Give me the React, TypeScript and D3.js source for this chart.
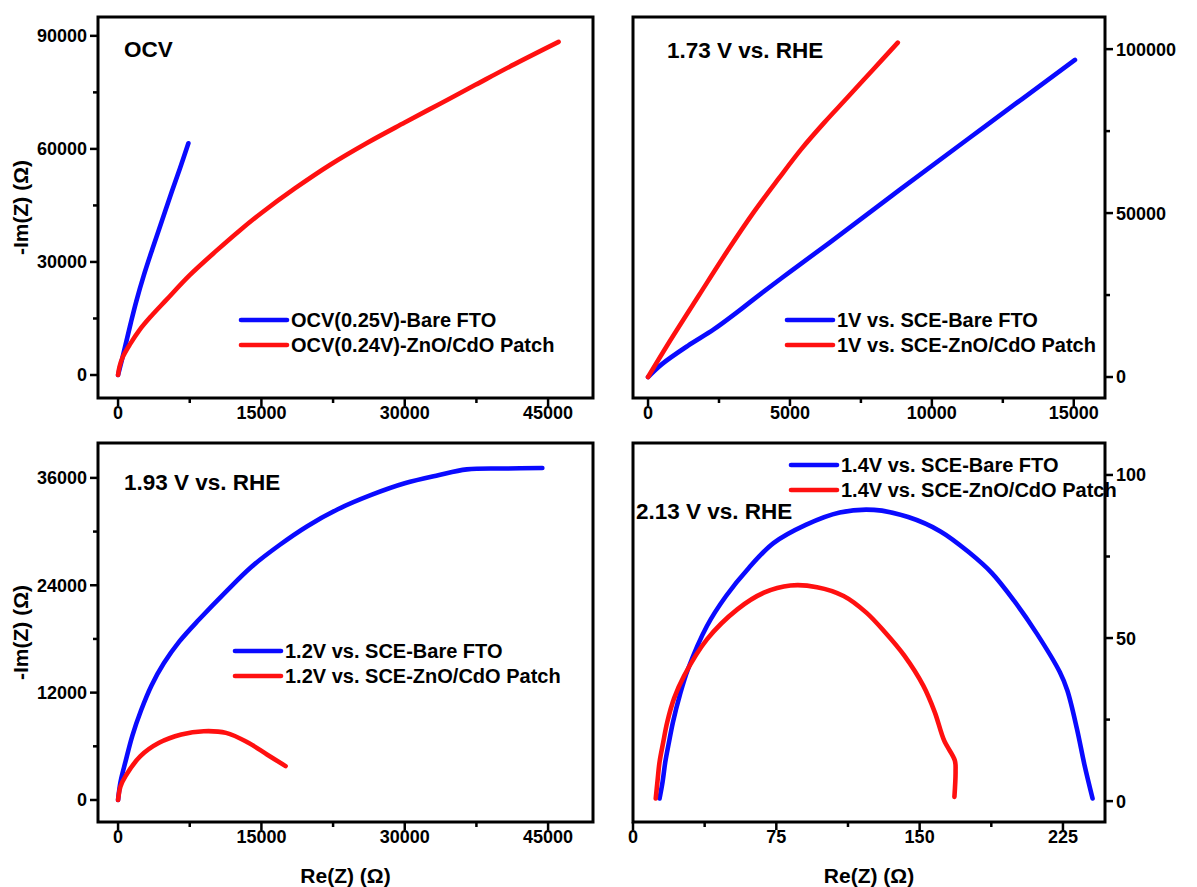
import React from 'react';
import * as d3 from 'd3';

type Pt = [number, number];

// ---- Data ----
const ocvBare: Pt[] = [[0,0],[400,4000],[800,8200],[1300,13500],[1900,19500],[2700,26500],[3600,33500],[4600,41000],[5600,48500],[6500,55000],[7360,61500]];
const ocvPatch: Pt[] = [[0,0],[150,2200],[500,4800],[1256,8200],[2200,11800],[3350,15300],[5000,19800],[7500,26500],[10300,33000],[12800,38500],[15000,43000],[18500,49500],[22200,55800],[26000,61500],[30000,67000],[33700,72000],[37400,77000],[41500,82500],[46100,88400]];

const v173Bare: Pt[] = [[0,0],[500,4000],[1400,9500],[2314,14500],[3131,19700],[3811,24300],[5036,32300],[6400,41000],[8850,57000],[11850,76300],[15041,96700]];
const v173Patch: Pt[] = [[0,0],[700,10000],[1800,25000],[2800,38500],[3700,50000],[4600,60500],[5400,69500],[6200,77500],[7000,85000],[7900,93500],[8800,102000]];

const v193Bare: Pt[] = [[0,0],[250,2000],[780,4300],[1500,7200],[2400,10000],[3500,12800],[4800,15300],[6400,17700],[8500,20200],[11300,23300],[14000,26100],[16900,28500],[19800,30600],[23000,32500],[26500,34100],[30000,35400],[33500,36300],[36500,36950],[40500,37050],[44400,37100]];
const v193Patch: Pt[] = [[0,0],[250,1500],[780,2670],[2340,4900],[4290,6390],[6620,7320],[8960,7690],[11300,7500],[13640,6390],[15580,5090],[17530,3790]];

const v213Bare: Pt[] = [[13.9,0.8],[15.5,6],[16.9,12],[18.8,18],[20.9,24.2],[24.5,32.5],[28.8,40.5],[38.7,53.7],[48.7,62.9],[60.6,71.5],[73.5,79.1],[90.4,84.7],[108.2,88.5],[126.1,89.3],[144,87.1],[160.9,82.7],[175.8,76.3],[187.7,70],[199.6,61.3],[211.5,51.2],[223.4,39.5],[227.3,33.9],[232.3,22.2],[236.3,11],[240.5,0.8]];
const v213Patch: Pt[] = [[11.9,0.8],[12.8,6],[13.9,12],[15.8,18],[17.9,24.2],[21.5,31.5],[26.8,38.5],[38.7,49.6],[54.6,58.8],[68.5,63.9],[82.4,66.1],[96.3,65.6],[110.2,62.9],[122.1,57.8],[132,51.7],[142,44.6],[151.9,35.4],[157.9,27.3],[162.8,18.6],[168.4,12.5],[168.8,9],[168.2,1.3]];

const ticksX1 = [0, 15000, 30000, 45000];
const minorX1 = [7500, 22500, 37500];
const ticksY1 = [0, 30000, 60000, 90000];
const minorY1 = [15000, 45000, 75000];

const ticksX2 = [0, 5000, 10000, 15000];
const minorX2 = [2500, 7500, 12500];
const ticksY2 = [0, 50000, 100000];
const minorY2 = [25000, 75000];

const ticksX3 = [0, 15000, 30000, 45000];
const minorX3 = [7500, 22500, 37500];
const ticksY3 = [0, 12000, 24000, 36000];
const minorY3 = [6000, 18000, 30000];

const ticksX4 = [0, 75, 150, 225];
const minorX4 = [37.5, 112.5, 187.5];
const ticksY4 = [0, 50, 100];
const minorY4 = [25, 75];

const titles = ['OCV', '1.73 V vs. RHE', '1.93 V vs. RHE', '2.13 V vs. RHE'];
const legends = [
  ['OCV(0.25V)-Bare FTO', 'OCV(0.24V)-ZnO/CdO Patch'],
  ['1V vs. SCE-Bare FTO', '1V vs. SCE-ZnO/CdO Patch'],
  ['1.2V vs. SCE-Bare FTO', '1.2V vs. SCE-ZnO/CdO Patch'],
  ['1.4V vs. SCE-Bare FTO', '1.4V vs. SCE-ZnO/CdO Patch'],
];

const BLUE = '#0a0aff';
const RED = '#ff1010';
const FONT = '"Liberation Sans", Arial, Helvetica, sans-serif';

type PanelCfg = {
  left: number; right: number; top: number; bottom: number;
  xDomain: [number, number]; yDomain: [number, number];
  xTicks: number[]; xMinor: number[]; yTicks: number[]; yMinor: number[];
  yRight: boolean;
  bare: Pt[]; patch: Pt[];
  title: string; titleX: number; titleY: number;
  legend: string[]; legX: number; legY: number;
  yLabel: boolean; xLabel: boolean;
};

const panels: PanelCfg[] = [
  { left: 98, right: 593, top: 17, bottom: 398, xDomain: [-2100, 49700], yDomain: [-6100, 95000],
    xTicks: ticksX1, xMinor: minorX1, yTicks: ticksY1, yMinor: minorY1, yRight: false,
    bare: ocvBare, patch: ocvPatch, title: titles[0], titleX: 124, titleY: 49,
    legend: legends[0], legX: 241, legY: 320, yLabel: true, xLabel: false },
  { left: 633, right: 1105, top: 17, bottom: 398, xDomain: [-530, 16100], yDomain: [-6400, 109800],
    xTicks: ticksX2, xMinor: minorX2, yTicks: ticksY2, yMinor: minorY2, yRight: true,
    bare: v173Bare, patch: v173Patch, title: titles[1], titleX: 667, titleY: 50,
    legend: legends[1], legX: 787, legY: 320, yLabel: false, xLabel: false },
  { left: 98, right: 593, top: 443, bottom: 822, xDomain: [-2100, 49700], yDomain: [-2460, 39900],
    xTicks: ticksX3, xMinor: minorX3, yTicks: ticksY3, yMinor: minorY3, yRight: false,
    bare: v193Bare, patch: v193Patch, title: titles[2], titleX: 124, titleY: 482,
    legend: legends[2], legX: 235, legY: 651, yLabel: true, xLabel: true },
  { left: 633, right: 1105, top: 443, bottom: 822, xDomain: [0, 247], yDomain: [-6.4, 109.8],
    xTicks: ticksX4, xMinor: minorX4, yTicks: ticksY4, yMinor: minorY4, yRight: true,
    bare: v213Bare, patch: v213Patch, title: titles[3], titleX: 636, titleY: 511,
    legend: legends[3], legX: 791, legY: 465, yLabel: false, xLabel: true },
];

function Panel({ p }: { p: PanelCfg }) {
  const x = d3.scaleLinear().domain(p.xDomain).range([p.left, p.right]);
  const y = d3.scaleLinear().domain(p.yDomain).range([p.bottom, p.top]);
  const line = d3.line<Pt>().x(d => x(d[0])).y(d => y(d[1])).curve(d3.curveCatmullRom.alpha(0.5));
  const ax = p.yRight ? p.right : p.left;
  const dir = p.yRight ? 1 : -1;
  const cy = (p.top + p.bottom) / 2;
  const cx = (p.left + p.right) / 2;
  return (
    <g>
      <path d={line(p.bare) || ''} fill="none" stroke={BLUE} strokeWidth={4.6} strokeLinecap="round" strokeLinejoin="round" />
      <path d={line(p.patch) || ''} fill="none" stroke={RED} strokeWidth={4.6} strokeLinecap="round" strokeLinejoin="round" />
      <rect x={p.left} y={p.top} width={p.right - p.left} height={p.bottom - p.top} fill="none" stroke="#000" strokeWidth={3} />
      {p.xTicks.map(t => (
        <g key={'xt' + t}>
          <line x1={x(t)} x2={x(t)} y1={p.bottom} y2={p.bottom + 8} stroke="#000" strokeWidth={2.5} />
          <text x={x(t)} y={p.bottom + 21} textAnchor="middle" fontSize={18} fontWeight="bold" fontFamily={FONT}>{t}</text>
        </g>
      ))}
      {p.xMinor.map(t => (
        <line key={'xm' + t} x1={x(t)} x2={x(t)} y1={p.bottom} y2={p.bottom + 5} stroke="#000" strokeWidth={2.5} />
      ))}
      {p.yTicks.map(t => (
        <g key={'yt' + t}>
          <line x1={ax} x2={ax + dir * 8} y1={y(t)} y2={y(t)} stroke="#000" strokeWidth={2.5} />
          <text x={ax + dir * 11} y={y(t)} dy="0.36em" textAnchor={p.yRight ? 'start' : 'end'} fontSize={18} fontWeight="bold" fontFamily={FONT}>{t}</text>
        </g>
      ))}
      {p.yMinor.map(t => (
        <line key={'ym' + t} x1={ax} x2={ax + dir * 5} y1={y(t)} y2={y(t)} stroke="#000" strokeWidth={2.5} />
      ))}
      <text x={p.titleX} y={p.titleY} dy="0.36em" fontSize={22.5} fontWeight="bold" fontFamily={FONT}>{p.title}</text>
      {p.legend.map((s, i) => (
        <g key={'lg' + i}>
          <line x1={p.legX} x2={p.legX + 46} y1={p.legY + i * 25} y2={p.legY + i * 25} stroke={i === 0 ? BLUE : RED} strokeWidth={4.6} strokeLinecap="round" />
          <text x={p.legX + 50} y={p.legY + i * 25} dy="0.36em" fontSize={20} fontWeight="bold" fontFamily={FONT}>{s}</text>
        </g>
      ))}
      {p.yLabel && (
        <text transform={`translate(28,${cy}) rotate(-90)`} textAnchor="middle" fontSize={21} fontWeight="bold" fontFamily={FONT}>-Im(Z) (Ω)</text>
      )}
      {p.xLabel && (
        <text x={cx} y={883} textAnchor="middle" fontSize={21} fontWeight="bold" fontFamily={FONT}>Re(Z) (Ω)</text>
      )}
    </g>
  );
}

export default function App() {
  return (
    <svg width={1197} height={887} style={{ position: 'absolute', left: 0, top: 0, background: '#fff' }}>
      <rect x={0} y={0} width={1197} height={887} fill="#fff" />
      {panels.map((p, i) => <Panel key={i} p={p} />)}
    </svg>
  );
}
